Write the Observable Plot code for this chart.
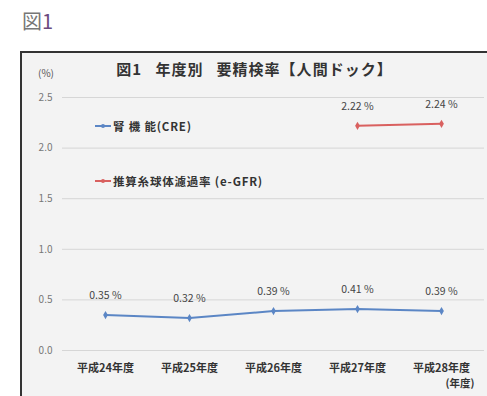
<!DOCTYPE html>
<html><head><meta charset="utf-8">
<script src="https://cdn.jsdelivr.net/npm/d3@7"></script>
<script src="https://cdn.jsdelivr.net/npm/@observablehq/plot@0.6"></script>
<style>
html,body{margin:0;padding:0;background:#fff;width:487px;height:396px;overflow:hidden;font-family:"Noto Sans CJK JP",sans-serif;}
#fig{position:absolute;left:22px;top:6px;font-size:20px;color:#6b4a7e;}
#fig .k{color:#777;}
#box{position:absolute;left:20px;top:51px;width:520px;height:400px;border-left:2px solid #333;border-top:2px solid #333;background:#f3f3f3;}
#title{position:absolute;left:0;width:465px;top:5px;text-align:center;font-size:15px;color:#333;font-weight:bold;letter-spacing:1px;}
#unit{position:absolute;left:16px;top:12px;font-size:10px;color:#555;}
#chart{position:absolute;left:0;top:32px;}
.leg{position:absolute;left:73px;font-size:11.5px;color:#333;font-weight:bold;display:flex;align-items:center;white-space:nowrap;letter-spacing:0.8px;}
.sw{display:inline-block;width:16px;height:2px;margin-right:2px;position:relative;}
.sw i{position:absolute;left:6px;top:-1.5px;width:4px;height:4px;border-radius:2px;}
</style></head><body>
<div id="fig"><span class="k">図</span>1</div>
<div id="box">
  <div id="title">図1&nbsp;&nbsp;&nbsp;年度別&nbsp;&nbsp;&nbsp;要精検率【人間ドック】</div>
  <div id="unit">(%)</div>
  <div id="chart"></div>
  <div id="legend"></div>
</div>
<script>
const years = ["平成24年度","平成25年度","平成26年度","平成27年度","平成28年度"];
const creValues = [0.35, 0.32, 0.39, 0.41, 0.39];
const egfrYears = ["平成27年度","平成28年度"];
const egfrValues = [2.22, 2.24];
const seriesNames = ["腎 機 能(CRE)", "推算糸球体濾過率 (e-GFR)"];
const seriesColors = ["#5b86c5", "#d9605f"];
const yTicks = [0, 0.5, 1.0, 1.5, 2.0, 2.5];
const xUnit = ["(年度)"];

const cre = years.map((y,i)=>({year:y, v:creValues[i]}));
const egfr = egfrYears.map((y,i)=>({year:y, v:egfrValues[i]}));

const chart = Plot.plot({
  width: 465, height: 311,
  marginLeft: 40, marginRight: 3, marginTop: 12, marginBottom: 46,
  style: {background:"transparent", fontFamily:"'Noto Sans CJK JP', sans-serif"},
  x: {type:"point", domain: years, padding: 0.49, label: null},
  y: {domain:[0,2.5], ticks: yTicks, label: null},
  marks: [
    Plot.gridY(yTicks, {stroke:"#d6d6d6", strokeOpacity:1, strokeWidth:1}),
    Plot.axisY(yTicks, {tickSize:0, tickPadding:10, tickFormat: d=>d.toFixed(1), fontSize:10, fill:"#777", label:null}),
    Plot.axisX({tickSize:0, tickPadding:14, fontSize:11, fill:"#333", fontWeight:"bold", label:null}),
    Plot.line(cre, {x:"year", y:"v", stroke: seriesColors[0], strokeWidth:2}),
    Plot.dot(cre, {x:"year", y:"v", fill: seriesColors[0], r:2.5, symbol:"diamond"}),
    Plot.text(cre, {x:"year", y:"v", text: d=>d.v.toFixed(2)+" %", dy:-19, fontSize:10.5, fill:"#444"}),
    Plot.line(egfr, {x:"year", y:"v", stroke: seriesColors[1], strokeWidth:2}),
    Plot.dot(egfr, {x:"year", y:"v", fill: seriesColors[1], r:2.5, symbol:"diamond"}),
    Plot.text(egfr, {x:"year", y:"v", text: d=>d.v.toFixed(2)+" %", dy:-19, fontSize:10.5, fill:"#444"}),
    Plot.text(xUnit, {frameAnchor:"bottom-right", dx:-10, dy:36, textAnchor:"end", fontSize:10.5, fill:"#333", fontWeight:"bold"})
  ]
});
document.getElementById("chart").appendChild(chart);

const leg = document.getElementById("legend");
const legTops = [65, 120];
seriesNames.forEach((n,i)=>{
  const d = document.createElement("div");
  d.className = "leg";
  d.style.top = (legTops[i]) + "px";
  d.innerHTML = `<span class="sw" style="background:${seriesColors[i]}"><i style="background:${seriesColors[i]}"></i></span>${n}`;
  leg.appendChild(d);
});
</script>
</body></html>
